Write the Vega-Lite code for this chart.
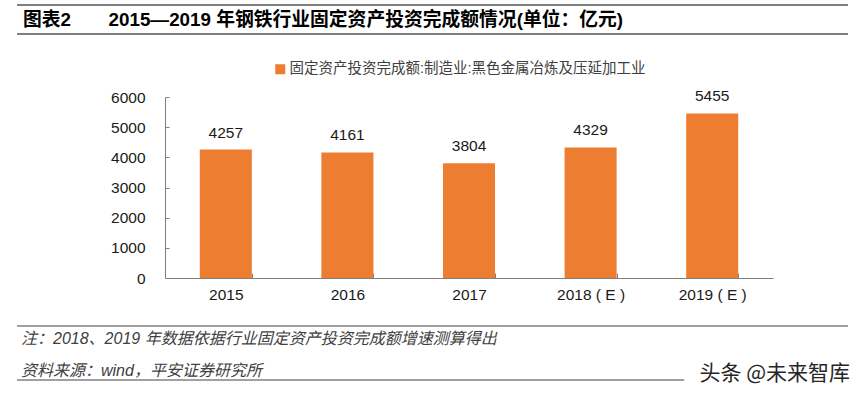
{
  "$schema": "https://vega.github.io/schema/vega-lite/v6.json",
  "padding": {"left": 16, "top": 4, "right": 5, "bottom": 8},
  "background": "white",
  "config": {"view": {"stroke": null}, "font": "Liberation Sans, Noto Sans CJK SC"},
  "resolve": {"scale": {"color": "independent"}, "legend": {"color": "independent"}},
  "spacing": 22,
  "vconcat": [
    {
      "width": 831,
      "height": 29,
      "encoding": {
        "y": {"field": "edge", "type": "nominal", "scale": {"type": "point", "padding": 0, "domain": ["top", "title", "bottom"]}, "axis": null}
      },
      "layer": [
        {
          "data": {"values": [{"edge": "top"}, {"edge": "bottom"}]},
          "mark": {"type": "rule", "color": "#808080", "strokeWidth": 2}
        },
        {
          "data": {"values": [{"edge": "title", "label": "图表2\u3000\u30002015—2019 年钢铁行业固定资产投资完成额情况(单位：亿元)"}]},
          "mark": {"type": "text", "align": "left", "baseline": "middle", "dx": 6, "fontSize": 18.8, "fontWeight": "bold", "color": "#000000"},
          "encoding": {
            "x": {"datum": 0, "type": "quantitative", "scale": {"domain": [0, 1]}, "axis": null},
            "text": {"field": "label"}
          }
        }
      ]
    },
    {
      "width": 831,
      "height": 181,
      "data": {"values": [
        {"year": "2015", "value": 4257, "series": "固定资产投资完成额:制造业:黑色金属冶炼及压延加工业"},
        {"year": "2016", "value": 4161, "series": "固定资产投资完成额:制造业:黑色金属冶炼及压延加工业"},
        {"year": "2017", "value": 3804, "series": "固定资产投资完成额:制造业:黑色金属冶炼及压延加工业"},
        {"year": "2018 ( E )", "value": 4329, "series": "固定资产投资完成额:制造业:黑色金属冶炼及压延加工业"},
        {"year": "2019 ( E )", "value": 5455, "series": "固定资产投资完成额:制造业:黑色金属冶炼及压延加工业"}
      ]},
      "encoding": {
        "x": {
          "field": "year", "type": "nominal", "sort": null,
          "scale": {"range": [148, 756], "paddingInner": 0.572, "paddingOuter": 0.286},
          "axis": {"title": null, "labelAngle": 0, "labelFontSize": 15.5, "labelColor": "#1a1a1a", "labelPadding": 14, "domainColor": "#7f7f7f", "tickColor": "#7f7f7f", "tickSize": -5, "tickBand": "extent", "grid": false}
        },
        "y": {
          "field": "value", "type": "quantitative",
          "scale": {"domain": [0, 6000], "nice": false},
          "axis": {"title": null, "values": [0, 1000, 2000, 3000, 4000, 5000, 6000], "format": "d", "offset": -148, "labelFontSize": 15.5, "labelColor": "#1a1a1a", "labelPadding": 24, "domainColor": "#7f7f7f", "tickColor": "#7f7f7f", "tickSize": -4, "grid": false}
        }
      },
      "layer": [
        {
          "mark": {"type": "bar", "color": "#ED7D31"},
          "encoding": {
            "color": {
              "field": "series", "type": "nominal",
              "scale": {"range": ["#ED7D31"]},
              "legend": {"orient": "none", "legendX": 251, "legendY": -40, "padding": 5, "direction": "horizontal", "title": null, "symbolType": "square", "symbolSize": 100, "symbolStrokeWidth": 0, "labelFontSize": 14.5, "labelColor": "#404040", "labelOffset": 2, "labelLimit": 0}
            }
          }
        },
        {
          "mark": {"type": "text", "dy": -12, "baseline": "alphabetic", "fontSize": 15.5, "color": "#1a1a1a"},
          "encoding": {"text": {"field": "value", "type": "quantitative", "format": "d"}}
        }
      ]
    },
    {
      "width": 831,
      "height": 54,
      "encoding": {
        "y": {"field": "edge", "type": "nominal", "scale": {"type": "point", "padding": 0, "domain": ["top", "note", "source", "bottom"]}, "axis": null}
      },
      "layer": [
        {
          "data": {"values": [{"edge": "top"}]},
          "mark": {"type": "rule", "color": "#808080", "strokeWidth": 1.5}
        },
        {
          "data": {"values": [{"edge": "bottom"}]},
          "mark": {"type": "rule", "color": "#808080", "strokeWidth": 1.5, "orient": "horizontal"},
          "encoding": {
            "x": {"datum": 0, "type": "quantitative", "scale": {"domain": [0, 1]}, "axis": null},
            "x2": {"datum": 0.803}
          }
        },
        {
          "data": {"values": [{"edge": "note", "label": "注：2018、2019 年数据依据行业固定资产投资完成额增速测算得出"}]},
          "mark": {"type": "text", "align": "left", "baseline": "middle", "dx": 4, "dy": -5, "fontSize": 16, "fontStyle": "italic", "color": "#404040"},
          "encoding": {
            "x": {"datum": 0, "type": "quantitative"},
            "text": {"field": "label"}
          }
        },
        {
          "data": {"values": [{"edge": "source", "label": "资料来源：wind，平安证券研究所"}]},
          "mark": {"type": "text", "align": "left", "baseline": "middle", "dx": 4, "dy": 9, "fontSize": 16, "fontStyle": "italic", "color": "#404040"},
          "encoding": {
            "x": {"datum": 0, "type": "quantitative"},
            "text": {"field": "label"}
          }
        },
        {
          "data": {"values": [{"edge": "bottom", "label": "头条 @未来智库"}]},
          "mark": {"type": "text", "align": "right", "baseline": "middle", "dx": 2, "dy": -6, "fontSize": 21, "font": "Noto Sans CJK SC", "color": "#262626"},
          "encoding": {
            "x": {"datum": 1, "type": "quantitative"},
            "text": {"field": "label"}
          }
        }
      ]
    }
  ]
}
